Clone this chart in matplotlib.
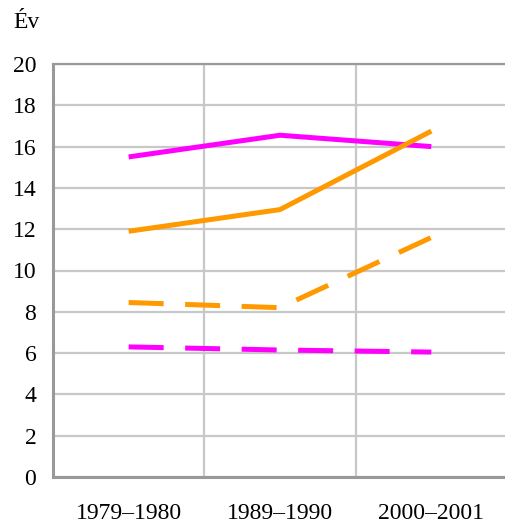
import matplotlib
matplotlib.use("Agg")
import matplotlib.pyplot as plt

categories = ["1979–1980", "1989–1990", "2000–2001"]
magenta_solid = [15.5, 16.55, 16.0]
orange_solid = [11.9, 12.95, 16.75]
orange_dashed = [8.45, 8.2, 11.6]
magenta_dashed = [6.3, 6.15, 6.05]
yticks = [0, 2, 4, 6, 8, 10, 12, 14, 16, 18, 20]

plt.rcParams['font.family'] = ['Liberation Serif', 'DejaVu Serif']

fig = plt.figure(figsize=(5.05, 5.28), dpi=100)
ax = fig.add_axes([53/505, 51/528, 454/505, 413/528])

x = list(range(len(categories)))
MAG = "#FF00FF"
ORA = "#FF9900"
lw = 3.6
dash = (0, (7, 4.3))
ax.plot(x, magenta_solid, color=MAG, lw=lw, solid_capstyle='butt', zorder=3)
ax.plot(x, orange_solid, color=ORA, lw=lw, solid_capstyle='butt', zorder=3)
ax.plot(x, orange_dashed, color=ORA, lw=lw, linestyle=dash, dash_capstyle='butt', zorder=3)
ax.plot(x, magenta_dashed, color=MAG, lw=lw, linestyle=dash, dash_capstyle='butt', zorder=3)

ax.set_xlim(-0.5, 2.5)
ax.set_ylim(0, 20)
ax.set_yticks(yticks)
ax.set_xticks(x)
ax.set_xticklabels(categories)
ax.set_xticks([0.5, 1.5], minor=True)
ax.grid(True, which='major', axis='y', color='#c8c8c8', lw=1.6)
ax.grid(True, which='minor', axis='x', color='#c8c8c8', lw=1.6)
ax.set_axisbelow(True)
ax.tick_params(which='both', length=0)
ax.tick_params(axis='y', pad=12, labelsize=17)
ax.tick_params(axis='x', pad=19, labelsize=17)
for s in ['left', 'bottom']:
    ax.spines[s].set_color('#999999')
    ax.spines[s].set_linewidth(2.2)
ax.spines['top'].set_color('#999999')
ax.spines['top'].set_linewidth(1.6)
ax.spines['right'].set_visible(False)

fig.text(13/505, 1 - 22/528, "Év", fontsize=17, ha='left', va='center')

fig.savefig("out.png", dpi=100)
